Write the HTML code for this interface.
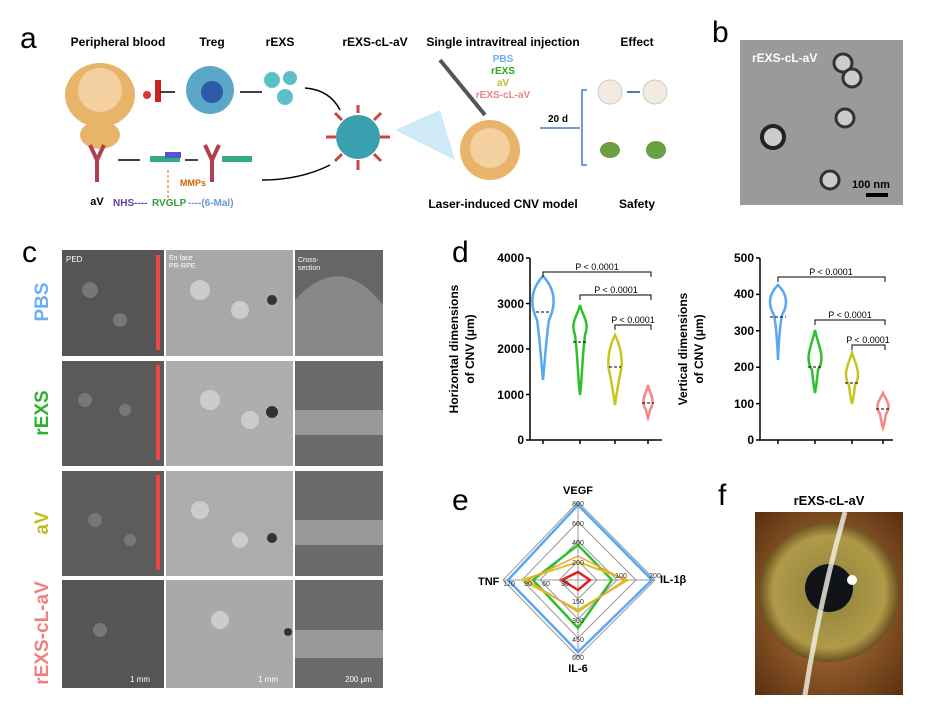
<!DOCTYPE html>
<html><head><meta charset="utf-8"><style>
body{margin:0;background:#fff;}
svg{display:block;font-family:"Liberation Sans",Arial,sans-serif;}
</style></head><body>
<svg width="943" height="714" viewBox="0 0 943 714" xmlns="http://www.w3.org/2000/svg">
<defs>
<radialGradient id="iris" cx="50%" cy="50%" r="50%"><stop offset="0.3" stop-color="#9a8a40"/><stop offset="0.8" stop-color="#b09a48"/><stop offset="1" stop-color="#6a5020"/></radialGradient>
<radialGradient id="bg1" cx="50%" cy="50%" r="70%"><stop offset="0" stop-color="#c08040"/><stop offset="1" stop-color="#5a3010"/></radialGradient>
</defs>
<rect width="943" height="714" fill="#fff"/>
<text x="20" y="48" font-size="30">a</text>
<text x="712" y="42" font-size="30">b</text>
<text x="22" y="262" font-size="30">c</text>
<text x="452" y="262" font-size="30">d</text>
<text x="452" y="510" font-size="30">e</text>
<text x="718" y="505" font-size="30">f</text>

<g font-size="12" font-weight="bold" text-anchor="middle">
<text x="118" y="46">Peripheral blood</text>
<text x="212" y="46">Treg</text>
<text x="280" y="46">rEXS</text>
<text x="375" y="46">rEXS-cL-aV</text>
<text x="503" y="46">Single intravitreal injection</text>
<text x="637" y="46">Effect</text>
<text x="503" y="208">Laser-induced CNV model</text>
<text x="637" y="208">Safety</text>
<text x="97" y="205" font-size="11">aV</text>
</g>
<ellipse cx="100" cy="95" rx="35" ry="32" fill="#e8b46a"/><circle cx="100" cy="90" r="22" fill="#f4d0a0"/>
<ellipse cx="100" cy="135" rx="20" ry="14" fill="#e8b46a"/>
<circle cx="147" cy="95" r="4" fill="#d33"/><rect x="155" y="80" width="6" height="22" fill="#c22"/>
<line x1="160" y1="92" x2="175" y2="92" stroke="#000" stroke-width="1.5"/>
<circle cx="210" cy="90" r="24" fill="#5aa7c8"/><circle cx="212" cy="92" r="11" fill="#2e5aa8"/>
<line x1="240" y1="92" x2="262" y2="92" stroke="#000" stroke-width="1.5"/>
<circle cx="272" cy="80" r="8" fill="#5bc0c8"/><circle cx="290" cy="78" r="7" fill="#5bc0c8"/><circle cx="285" cy="97" r="8" fill="#5bc0c8"/>
<path d="M305 88 Q330 90 340 110" stroke="#000" fill="none" stroke-width="1.5"/>
<circle cx="358" cy="137" r="22" fill="#3aa0b0"/>
<g stroke="#c44" stroke-width="3"><line x1="358" y1="113" x2="358" y2="105"/><line x1="380" y1="137" x2="390" y2="137"/><line x1="358" y1="160" x2="358" y2="170"/><line x1="336" y1="137" x2="326" y2="137"/><line x1="342" y1="120" x2="335" y2="113"/><line x1="374" y1="154" x2="381" y2="161"/><line x1="374" y1="120" x2="381" y2="113"/><line x1="342" y1="154" x2="335" y2="161"/></g>
<path d="M90 145 L97 160 L104 145 M97 160 L97 182" stroke="#b04050" stroke-width="4" fill="none"/>
<line x1="118" y1="160" x2="140" y2="160" stroke="#000" stroke-width="1.5"/>
<rect x="150" y="156" width="30" height="6" fill="#3a8"/><rect x="165" y="152" width="16" height="6" fill="#55c"/>
<line x1="185" y1="160" x2="198" y2="160" stroke="#000" stroke-width="1.5"/>
<path d="M205 145 L212 160 L219 145 M212 160 L212 182" stroke="#b04050" stroke-width="4" fill="none"/>
<rect x="222" y="156" width="30" height="6" fill="#3a8"/>
<path d="M262 180 Q300 180 330 165" stroke="#000" fill="none" stroke-width="1.5"/>
<text x="113" y="206" font-size="10" fill="#6040a0" font-weight="bold">NHS----</text>
<text x="152" y="206" font-size="10" fill="#3a9a40" font-weight="bold">RVGLP</text>
<text x="188" y="206" font-size="10" fill="#6a9ad0" font-weight="bold">----(6-Mal)</text>
<line x1="168" y1="170" x2="168" y2="198" stroke="#c60" stroke-dasharray="3,2"/>
<text x="180" y="186" font-size="9" fill="#c60" font-weight="bold">MMPs</text>
<path d="M395 130 L440 110 L455 160 Z" fill="#cfeaf6"/>
<ellipse cx="490" cy="150" rx="30" ry="30" fill="#e8b46a"/><circle cx="490" cy="148" r="20" fill="#f4d0a0"/>
<line x1="440" y1="60" x2="485" y2="115" stroke="#555" stroke-width="4"/>
<g font-size="10" font-weight="bold" text-anchor="middle">
<text x="503" y="62" fill="#6ab0f0">PBS</text><text x="503" y="74" fill="#2a2">rEXS</text>
<text x="503" y="86" fill="#bb2">aV</text><text x="503" y="98" fill="#f08080">rEXS-cL-aV</text>
<text x="558" y="122" fill="#000">20 d</text></g>
<line x1="540" y1="128" x2="580" y2="128" stroke="#4a7ac0" stroke-width="1.5"/>
<path d="M587 90 L582 90 L582 165 L587 165" stroke="#4a7ac0" fill="none" stroke-width="1.5"/>
<circle cx="610" cy="92" r="12" fill="#f3ebe0" stroke="#ccc"/><circle cx="655" cy="92" r="12" fill="#f3ebe0" stroke="#ccc"/>
<line x1="627" y1="92" x2="640" y2="92" stroke="#4a7ac0" stroke-width="2"/>
<ellipse cx="610" cy="150" rx="10" ry="8" fill="#6aa040"/><ellipse cx="656" cy="150" rx="10" ry="9" fill="#6aa040"/>

<rect x="740" y="40" width="163" height="165" fill="#9a9a9a"/>
<text x="752" y="62" font-size="12" fill="#fff" font-weight="bold">rEXS-cL-aV</text>
<circle cx="843" cy="63" r="9" fill="#ccc" stroke="#333" stroke-width="3"/><circle cx="852" cy="78" r="9" fill="#ccc" stroke="#333" stroke-width="3"/>
<circle cx="773" cy="137" r="11" fill="#ccc" stroke="#222" stroke-width="4"/><circle cx="845" cy="118" r="9" fill="#ccc" stroke="#333" stroke-width="3"/>
<circle cx="830" cy="180" r="9" fill="#ccc" stroke="#333" stroke-width="3"/>
<text x="852" y="188" font-size="11" font-weight="bold">100 nm</text><rect x="866" y="193" width="22" height="4" fill="#000"/>

<g font-size="19" font-weight="bold" text-anchor="middle">
<text transform="translate(48,302) rotate(-90)" fill="#6ab0f0">PBS</text>
<text transform="translate(48,413) rotate(-90)" fill="#2db02d">rEXS</text>
<text transform="translate(48,523) rotate(-90)" fill="#bfbf20">aV</text>
<text transform="translate(48,633) rotate(-90)" fill="#f08080">rEXS-cL-aV</text>
</g>
<g>
<rect x="62" y="250" width="102" height="106" fill="#555"/><rect x="166" y="250" width="127" height="106" fill="#a8a8a8"/><rect x="295" y="250" width="88" height="106" fill="#666"/>
<rect x="62" y="361" width="102" height="105" fill="#5a5a5a"/><rect x="166" y="361" width="127" height="105" fill="#aeaeae"/><rect x="295" y="361" width="88" height="105" fill="#6a6a6a"/>
<rect x="62" y="471" width="102" height="105" fill="#5c5c5c"/><rect x="166" y="471" width="127" height="105" fill="#acacac"/><rect x="295" y="471" width="88" height="105" fill="#6a6a6a"/>
<rect x="62" y="580" width="102" height="108" fill="#555"/><rect x="166" y="580" width="127" height="108" fill="#a9a9a9"/><rect x="295" y="580" width="88" height="108" fill="#6a6a6a"/>
<g fill="#777"><circle cx="90" cy="290" r="8"/><circle cx="120" cy="320" r="7"/><circle cx="85" cy="400" r="7"/><circle cx="125" cy="410" r="6"/><circle cx="95" cy="520" r="7"/><circle cx="130" cy="540" r="6"/><circle cx="100" cy="630" r="7"/></g>
<g fill="#ccc"><circle cx="200" cy="290" r="10"/><circle cx="240" cy="310" r="9"/><circle cx="210" cy="400" r="10"/><circle cx="250" cy="420" r="9"/><circle cx="200" cy="510" r="9"/><circle cx="240" cy="540" r="8"/><circle cx="220" cy="620" r="9"/></g>
<g fill="#333"><circle cx="272" cy="300" r="5"/><circle cx="272" cy="412" r="6"/><circle cx="272" cy="538" r="5"/><circle cx="288" cy="632" r="4"/></g>
<path d="M295 300 Q340 250 383 305 L383 356 L295 356Z" fill="#888"/>
<rect x="295" y="410" width="88" height="25" fill="#999"/><rect x="295" y="520" width="88" height="25" fill="#999"/><rect x="295" y="630" width="88" height="28" fill="#999"/>
<rect x="156" y="255" width="4" height="95" fill="#e44"/><rect x="156" y="365" width="4" height="95" fill="#e44"/><rect x="156" y="475" width="4" height="95" fill="#e44"/>
<text x="66" y="262" font-size="8" fill="#fff">PED</text><text x="169" y="260" font-size="7" fill="#fff">En face</text><text x="169" y="268" font-size="7" fill="#fff">PR-RPE</text>
<text x="298" y="262" font-size="7" fill="#fff">Cross-</text><text x="298" y="270" font-size="7" fill="#fff">section</text>
<text x="130" y="682" font-size="8" fill="#fff">1 mm</text><text x="258" y="682" font-size="8" fill="#fff">1 mm</text><text x="345" y="682" font-size="8" fill="#fff">200 μm</text>
</g>

<g font-size="12" font-weight="bold">
<text transform="translate(458,349) rotate(-90)" text-anchor="middle">Horizontal dimensions</text>
<text transform="translate(474,349) rotate(-90)" text-anchor="middle">of CNV (μm)</text>
<g text-anchor="end"><text x="524" y="444">0</text><text x="524" y="399">1000</text><text x="524" y="353">2000</text><text x="524" y="308">3000</text><text x="524" y="262">4000</text></g>
<text transform="translate(687,349) rotate(-90)" text-anchor="middle">Vertical dimensions</text>
<text transform="translate(703,349) rotate(-90)" text-anchor="middle">of CNV (μm)</text>
<g text-anchor="end"><text x="754" y="444">0</text><text x="754" y="408">100</text><text x="754" y="371">200</text><text x="754" y="335">300</text><text x="754" y="298">400</text><text x="754" y="262">500</text></g>
</g>
<g stroke="#000" stroke-width="1.5" fill="none">
<path d="M530 258 V440 H662"/><path d="M526 440h4M526 394.5h4M526 349h4M526 303.5h4M526 258h4"/>
<path d="M543 440v4M580 440v4M615 440v4M648 440v4"/>
<path d="M760 258 V440 H893"/><path d="M756 440h4M756 403.6h4M756 367.2h4M756 330.8h4M756 294.4h4M756 258h4"/>
<path d="M778 440v4M815 440v4M852 440v4M883 440v4"/>
</g>
<g stroke-width="2.5" fill="none">
<path d="M543 276 C556 290 556 305 549 320 C546 340 545 360 543 380 C541 360 540 340 537 320 C530 305 530 290 543 276Z" stroke="#5aa8f0"/>
<path d="M580 305 C582 315 590 322 585 335 C582 360 582 380 580 395 C578 380 578 360 575 335 C570 322 578 315 580 305Z" stroke="#2fc02f"/>
<path d="M615 335 C620 345 624 360 620 375 C617 390 616 398 615 405 C614 398 613 390 610 375 C606 360 610 345 615 335Z" stroke="#c6c620"/>
<path d="M648 385 C650 395 656 400 650 410 C649 415 648 418 648 418 C648 418 647 415 646 410 C640 400 646 395 648 385Z" stroke="#f28888"/>
<path d="M778 285 C788 295 788 305 782 315 C780 325 779 335 778 360 C777 335 776 325 774 315 C768 305 768 295 778 285Z" stroke="#5aa8f0"/>
<path d="M815 330 C818 345 826 358 818 370 C817 380 816 388 815 393 C814 388 813 380 812 370 C804 358 812 345 815 330Z" stroke="#2fc02f"/>
<path d="M852 353 C855 362 862 375 855 385 C854 395 853 400 852 404 C851 400 850 395 849 385 C842 375 849 362 852 353Z" stroke="#c6c620"/>
<path d="M883 393 C886 400 892 405 886 414 C885 420 884 425 883 428 C882 425 881 420 880 414 C874 405 880 400 883 393Z" stroke="#f28888"/>
</g>
<g stroke="#000" stroke-dasharray="3,2" stroke-width="1">
<path d="M536 312h14M573 342h14M609 367h12M642 403h12M770 317h16M808 367h14M845 383h14M876 409h14"/>
</g>
<g stroke="#000" stroke-width="1" fill="none">
<path d="M543 277v-5H651v5M580 300v-5H651v5M615 330v-5H651v5"/>
<path d="M778 282v-5H885v5M815 325v-5H885v5M852 350v-5H885v5"/>
</g>
<g font-size="9" text-anchor="middle">
<text x="597" y="270">P &lt; 0.0001</text><text x="616" y="293">P &lt; 0.0001</text><text x="633" y="323">P &lt; 0.0001</text>
<text x="831" y="275">P &lt; 0.0001</text><text x="850" y="318">P &lt; 0.0001</text><text x="868" y="343">P &lt; 0.0001</text>
</g>

<g fill="none" stroke="#999" stroke-width="1">
<path d="M578 502 L655 580 L578 657 L503 580Z"/>
<path d="M578 522 L636 580 L578 638 L522 580Z"/>
<path d="M578 541 L617 580 L578 619 L540 580Z"/>
<path d="M578 561 L597 580 L578 599 L559 580Z"/>
<path d="M578 502V657M503 580H655"/>
</g>
<path d="M578 505 L652 580 L578 652 L508 580Z" fill="none" stroke="#5aa8f0" stroke-width="2.5"/>
<path d="M578 545 L612 580 L578 628 L533 580Z" fill="none" stroke="#2fc02f" stroke-width="2.5"/>
<path d="M578 562 L628 580 L578 610 L522 580Z" fill="none" stroke="#d8c820" stroke-width="2"/>
<path d="M578 556 L625 580 L578 612 L527 580Z" fill="none" stroke="#f0a040" stroke-width="1.5"/>
<path d="M578 572 L590 580 L578 590 L562 580Z" fill="none" stroke="#e02020" stroke-width="2.5"/>
<g font-size="7" fill="#333" text-anchor="middle">
<text x="578" y="506">800</text><text x="578" y="526">600</text><text x="578" y="545">400</text><text x="578" y="565">200</text>
<text x="621" y="578">100</text><text x="655" y="578">200</text>
<text x="578" y="604">150</text><text x="578" y="623">300</text><text x="578" y="642">450</text><text x="578" y="660">600</text>
<text x="509" y="586">120</text><text x="528" y="586">90</text><text x="546" y="586">60</text><text x="565" y="586">30</text>
</g>
<g font-size="11" font-weight="bold">
<text x="578" y="494" text-anchor="middle">VEGF</text><text x="660" y="583">IL-1β</text>
<text x="478" y="585">TNF</text><text x="578" y="672" text-anchor="middle">IL-6</text>
</g>

<text x="829" y="505" font-size="13" font-weight="bold" text-anchor="middle">rEXS-cL-aV</text>
<rect x="755" y="512" width="148" height="183" fill="url(#bg1)"/>
<circle cx="829" cy="592" r="70" fill="url(#iris)"/>
<circle cx="829" cy="588" r="24" fill="#101418"/>
<path d="M845 512 Q820 600 805 695" stroke="#f4f0e8" stroke-width="5" fill="none" opacity="0.8"/>
<circle cx="852" cy="580" r="5" fill="#fff"/>
</svg>
</body></html>
